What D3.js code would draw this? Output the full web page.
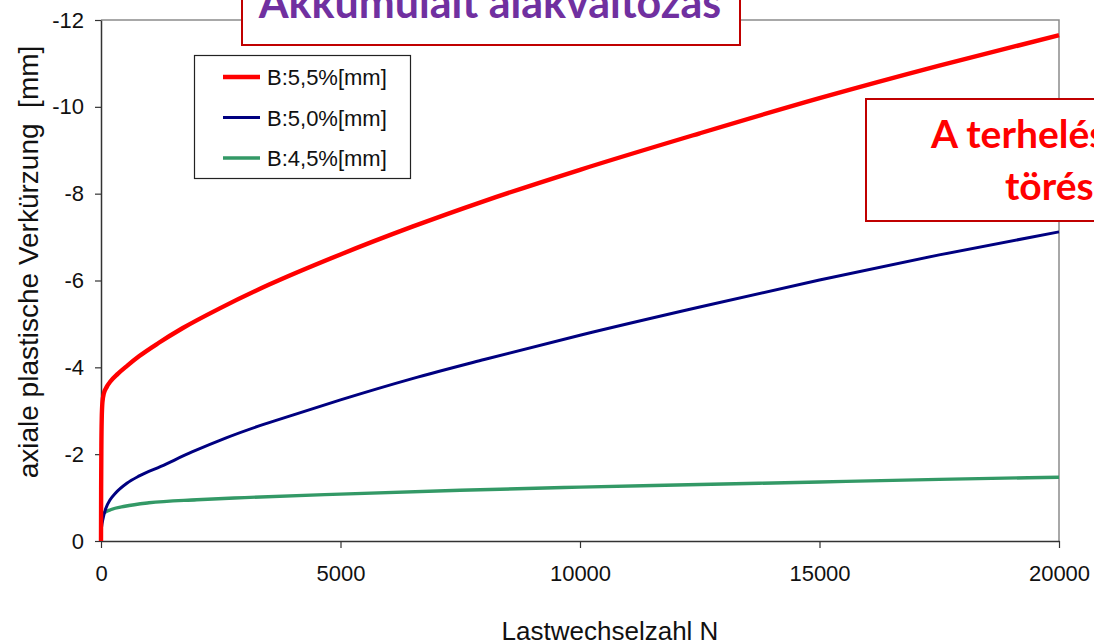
<!DOCTYPE html>
<html>
<head>
<meta charset="utf-8">
<script src="https://cdn.jsdelivr.net/npm/d3@7"></script>
<style>
  html, body { margin: 0; padding: 0; background: #fff; }
  svg { display: block; }
  text { font-family: "Liberation Sans", Arial, sans-serif; white-space: pre; }
</style>
</head>
<body>
<svg id="chart" width="1094" height="644"></svg>
<script>
// Load cycles N and accumulated axial plastic shortening [mm]
const cyclesRed   = [0, 3, 8, 15, 30, 60, 120, 200, 350, 550, 800, 1200, 1700, 2500, 3500, 5000, 6500, 8000, 10000, 12500, 15000, 17500, 20000];
const valuesRed   = [0, -1.2, -2.2, -2.8, -3.2, -3.4, -3.55, -3.68, -3.85, -4.04, -4.26, -4.56, -4.9, -5.37, -5.9, -6.6, -7.24, -7.83, -8.55, -9.39, -10.2, -10.95, -11.65];

const cyclesBlue  = [0, 10, 40, 100, 190, 300, 540, 800, 1250, 1900, 2600, 3300, 4000, 5000, 6500, 8000, 10000, 12500, 15000, 17500, 20000];
const valuesBlue  = [0, -0.3, -0.5, -0.75, -0.95, -1.1, -1.33, -1.5, -1.72, -2.05, -2.37, -2.65, -2.9, -3.25, -3.74, -4.18, -4.74, -5.39, -6.01, -6.59, -7.12];

const cyclesGreen = [0, 5, 15, 40, 100, 200, 500, 1000, 2000, 3000, 5000, 7500, 10000, 12500, 15000, 17500, 20000];
const valuesGreen = [0, -0.3, -0.5, -0.62, -0.67, -0.72, -0.8, -0.88, -0.95, -1.0, -1.08, -1.17, -1.24, -1.3, -1.36, -1.42, -1.47];

const seriesNames  = ["B:5,5%[mm]", "B:5,0%[mm]", "B:4,5%[mm]"];
const seriesColors = ["#ff0000", "#000080", "#339966"];
const seriesWidths = [4.4, 3, 3.4];

const xTicks = [0, 5000, 10000, 15000, 20000];
const yTicks = [0, -2, -4, -6, -8, -10, -12];

const xTitle = "Lastwechselzahl N";
const yTitle = "axiale plastische Verkürzung  [mm]";
const chartTitle = "Akkumulált alakváltozás";
const noteLines = ["A terhelés", "törés"];

const series = [
  { name: seriesNames[0], x: cyclesRed,   y: valuesRed },
  { name: seriesNames[1], x: cyclesBlue,  y: valuesBlue },
  { name: seriesNames[2], x: cyclesGreen, y: valuesGreen }
];

const svg = d3.select("#chart");
const plot = { left: 101, right: 1059, top: 20, bottom: 541 };

const x = d3.scaleLinear().domain([0, 20000]).range([plot.left, plot.right]);
const y = d3.scaleLinear().domain([0, -12]).range([plot.bottom, plot.top]);

// plot-area frame (top and right edges)
svg.append("path")
  .attr("d", `M${plot.left},${plot.top}H${plot.right}V${plot.bottom}`)
  .attr("fill", "none")
  .attr("stroke", "#8c8c8c")
  .attr("stroke-width", 1.5);

// axes
const xAxis = svg.append("g")
  .attr("transform", `translate(0,${plot.bottom})`)
  .call(d3.axisBottom(x).tickValues(xTicks).tickSize(7).tickSizeOuter(0).tickPadding(17)
        .tickFormat(d => String(d)));
const yAxis = svg.append("g")
  .attr("transform", `translate(${plot.left},0)`)
  .call(d3.axisLeft(y).tickValues(yTicks).tickSize(6).tickSizeOuter(0).tickPadding(11)
        .tickFormat(d => String(d)));

[xAxis, yAxis].forEach(g => {
  g.select(".domain").attr("stroke", "#333").attr("stroke-width", 1.5);
  g.selectAll(".tick line").attr("stroke", "#333").attr("stroke-width", 1.2);
  g.selectAll(".tick text")
    .attr("fill", "#111")
    .style("font-family", "'Liberation Sans', Arial, sans-serif")
    .style("font-size", "22px");
});

// curves
const line = d3.line()
  .x(d => x(d[0]))
  .y(d => y(d[1]))
  .curve(d3.curveMonotoneX);

const curves = svg.append("g");
series.slice().reverse().forEach((s, ri) => {
  const i = series.length - 1 - ri;
  curves.append("path")
    .datum(s.x.map((v, k) => [v, s.y[k]]))
    .attr("d", line)
    .attr("fill", "none")
    .attr("stroke", seriesColors[i])
    .attr("stroke-width", seriesWidths[i])
    .attr("stroke-linejoin", "round");
});

// legend
const legend = svg.append("g");
legend.append("rect")
  .attr("x", 194.5).attr("y", 55.5).attr("width", 216).attr("height", 123)
  .attr("fill", "#fff").attr("stroke", "#222").attr("stroke-width", 1.2);
series.forEach((s, i) => {
  const ly = 77 + i * 40.5;
  legend.append("line")
    .attr("x1", 223).attr("x2", 260).attr("y1", ly).attr("y2", ly)
    .attr("stroke", seriesColors[i]).attr("stroke-width", seriesWidths[i]);
  legend.append("text")
    .attr("x", 267).attr("y", ly + 8)
    .attr("fill", "#111")
    .style("font-size", "22px")
    .text(s.name);
});

// axis titles
svg.append("text")
  .attr("x", 610).attr("y", 640)
  .attr("text-anchor", "middle")
  .attr("fill", "#111")
  .style("font-size", "26px")
  .text(xTitle);

svg.append("text")
  .attr("transform", "translate(38,262) rotate(-90)")
  .attr("text-anchor", "middle")
  .attr("fill", "#111")
  .style("font-size", "28px")
  .text(yTitle);

// title box
svg.append("rect")
  .attr("x", 242).attr("y", -10).attr("width", 498).attr("height", 55)
  .attr("fill", "#fff").attr("stroke", "#c00000").attr("stroke-width", 2);
svg.append("text")
  .attr("x", 490).attr("y", 18)
  .attr("text-anchor", "middle")
  .attr("fill", "#7030a0")
  .style("font-family", "Lato, 'Open Sans', sans-serif")
  .style("font-weight", "bold")
  .style("font-size", "43px")
  .text(chartTitle);

// note box on the right
svg.append("rect")
  .attr("x", 866).attr("y", 99).attr("width", 260).attr("height", 122)
  .attr("fill", "#fff").attr("stroke", "#c00000").attr("stroke-width", 2);
const note = svg.append("text")
  .attr("fill", "#ff0000")
  .style("font-family", "Lato, 'Open Sans', sans-serif")
  .style("font-weight", "bold")
  .style("font-size", "39px");
note.append("tspan").attr("x", 931).attr("y", 148).text(noteLines[0]);
note.append("tspan").attr("x", 1005).attr("y", 200).text(noteLines[1]);
</script>
</body>
</html>
